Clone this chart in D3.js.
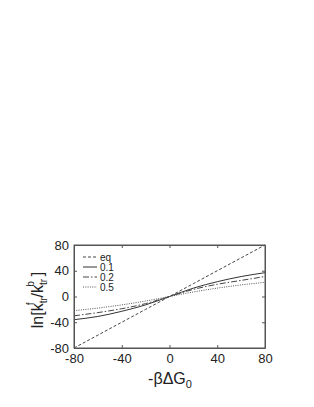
<!DOCTYPE html>
<html>
<head>
<meta charset="utf-8">
<script src="https://cdn.jsdelivr.net/npm/d3@7"></script>
<style>
	body { margin: 0; background: #fff; }
	text { font-family: "Liberation Sans", Arial, sans-serif; fill: #222; }
</style>
</head>
<body>
<script>
// values
const xs = [-80, -60, -40, -20, 0, 20, 40, 60, 80]
const eqValues = [-80, -60, -40, -20, 0, 20, 40, 60, 80]
const v01 = [-36, -31, -23, -13, 0, 13, 23, 31, 37]
const v02 = [-30, -25, -19, -11, 0, 11, 19, 25, 31]
const v05 = [-22, -18, -13, -7, 0, 7, 13, 18, 22]
const seriesNames = ['eq', '0.1', '0.2', '0.5']
const xTicks = [-80, -40, 0, 40, 80]
const yTicks = [-80, -40, 0, 40, 80]

const width = 314
const height = 407
const box = { left: 74, right: 265, top: 245, bottom: 348 }

const styles = {
	eq: { dash: '3,2', color: '#444' },
	'0.1': { dash: null, color: '#333' },
	'0.2': { dash: '6,2,1.5,2', color: '#444' },
	'0.5': { dash: '1,1.3', color: '#555' }
}

const series = [eqValues, v01, v02, v05].map((vals, i) => ({
	name: seriesNames[i],
	points: xs.map((x, j) => [x, vals[j]])
}))

const svg = d3.select('body').append('svg')
	.attr('width', width)
	.attr('height', height)

const x = d3.scaleLinear().domain([-80, 80]).range([box.left, box.right])
const y = d3.scaleLinear().domain([-80, 80]).range([box.bottom, box.top])

const line = d3.line()
	.x(d => x(d[0]))
	.y(d => y(d[1]))
	.curve(d3.curveMonotoneX)

svg.append('g')
	.selectAll('path')
	.data(series)
	.join('path')
	.attr('d', d => line(d.points))
	.attr('fill', 'none')
	.attr('stroke', d => styles[d.name].color)
	.attr('stroke-width', 1)
	.attr('stroke-dasharray', d => styles[d.name].dash)

// frame with inward ticks on every side
const axisColor = '#555'
const tickLen = 3
const plain = d => String(d) // hyphen minus like the original

svg.append('g')
	.attr('transform', `translate(0,${box.bottom})`)
	.call(d3.axisBottom(x).tickValues(xTicks).tickFormat(plain).tickSizeInner(-tickLen).tickSizeOuter(0).tickPadding(6))
svg.append('g')
	.attr('transform', `translate(${box.left},0)`)
	.call(d3.axisLeft(y).tickValues(yTicks).tickFormat(plain).tickSizeInner(-tickLen).tickSizeOuter(0).tickPadding(5))
svg.append('g')
	.attr('transform', `translate(0,${box.top})`)
	.call(d3.axisTop(x).tickValues(xTicks).tickSizeInner(-tickLen).tickSizeOuter(0).tickFormat(''))
svg.append('g')
	.attr('transform', `translate(${box.right},0)`)
	.call(d3.axisRight(y).tickValues(yTicks).tickSizeInner(-tickLen).tickSizeOuter(0).tickFormat(''))

svg.selectAll('.domain, .tick line').attr('stroke', axisColor)
svg.selectAll('.tick text')
	.style('font-size', '13px')
	.style('font-family', '"Liberation Sans", Arial, sans-serif')
	.attr('fill', '#222')

svg.append('rect')
	.attr('x', box.left)
	.attr('y', box.top)
	.attr('width', box.right - box.left)
	.attr('height', box.bottom - box.top)
	.attr('fill', 'none')
	.attr('stroke', axisColor)

// legend
const legend = svg.append('g')
	.selectAll('g')
	.data(series)
	.join('g')
	.attr('transform', (d, i) => `translate(83,${257 + i * 10})`)

legend.append('line')
	.attr('x1', 0)
	.attr('x2', 14)
	.attr('stroke', d => styles[d.name].color)
	.attr('stroke-dasharray', d => styles[d.name].dash)

legend.append('text')
	.attr('x', 17)
	.attr('dy', '0.35em')
	.style('font-size', '10px')
	.text(d => d.name)

// x label
const xLabel = svg.append('text')
	.attr('x', 170)
	.attr('y', 384)
	.attr('text-anchor', 'middle')
	.style('font-size', '16px')
xLabel.append('tspan').text('-βΔG')
xLabel.append('tspan').attr('dy', 4).style('font-size', '11px').text('0')

// y label
const yLabel = svg.append('text')
	.attr('transform', 'translate(43,300) rotate(-90)')
	.attr('text-anchor', 'middle')
	.style('font-size', '16px')
yLabel.append('tspan').text('ln[k')
yLabel.append('tspan').attr('dy', 4).style('font-size', '10px').text('tr')
yLabel.append('tspan').attr('dx', -8).attr('dy', -13).style('font-size', '10px').text('f')
yLabel.append('tspan').attr('dx', 5).attr('dy', 9).text('/k')
yLabel.append('tspan').attr('dy', 4).style('font-size', '10px').text('tr')
yLabel.append('tspan').attr('dx', -8).attr('dy', -13).style('font-size', '10px').text('b')
yLabel.append('tspan').attr('dx', 5).attr('dy', 9).text(']')
</script>
</body>
</html>
